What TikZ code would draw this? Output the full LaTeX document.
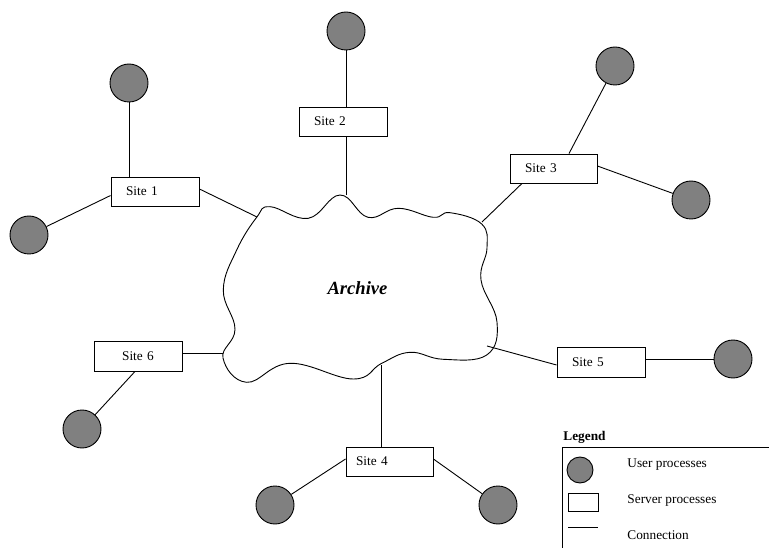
\documentclass[tikz,border=0pt]{standalone}
\usepackage{fontspec}
\setmainfont{Liberation Serif}
\usetikzlibrary{calc}
\definecolor{ugray}{RGB}{128,128,128}
\begin{document}
\begin{tikzpicture}[x=1pt,y=-1pt, line width=0.9pt,
 user/.style={circle, draw, fill=ugray, minimum size=38pt, inner sep=0pt},
 server/.style={draw, fill=white, minimum height=29pt, text width=58pt, inner xsep=15pt, inner ysep=0pt, align=left, font=\fontsize{13.3}{15}\selectfont},
 lbl/.style={font=\fontsize{13.3}{15}\selectfont, anchor=west, inner sep=0pt}]
\useasboundingbox (0,0) rectangle (769,548);

% cloud
\draw[fill=white] plot[smooth cycle, tension=0.7] coordinates {
(256.7,217.3) (270,206.7) (308.3,218.3) (340,195)
(368,217.3) (398.3,208.3) (433.3,217.3)
(450,212.7) (481.7,224)
(487,248) (481,280) (497,322) (486.7,355)
(443.3,359.3) (410,352.3) (381.7,363.3) (353.3,379)
(290,363.3) (246.7,382.3) (223,358) (235,329.3)
(223.3,290) (236.7,250)};
\node[font=\fontsize{18.6}{20}\selectfont\bfseries\itshape] (arch) at (357.5,288) {Archive};

\coordinate (c1) at (257,217);
\coordinate (c2) at (346,195);
\coordinate (c3) at (482,222);
\coordinate (c4) at (381,365);
\coordinate (c5) at (487,346);
\coordinate (c6) at (223,353);

% servers
\node[server] (s1) at (155,191.5) {Site 1};
\node[server] (s2) at (343,121.5) {Site 2};
\node[server, text width=57pt] (s3) at (553.5,168.5) {Site 3};
\node[server, minimum height=30pt, align=center] (s6) at (138,356) {Site 6};
\node[server, minimum height=30pt] (s5) at (601,362) {Site 5};
\node[server, text width=67pt, inner xsep=10pt] (s4) at (389.5,461.5) {Site 4};

% users
\node[user] (u1a) at (129,83) {};
\node[user] (u1b) at (29,235) {};
\node[user] (u2) at (346,31) {};
\node[user] (u3a) at (615,66) {};
\node[user] (u3b) at (691,200) {};
\node[user] (u6) at (82,429) {};
\node[user] (u5) at (733,359) {};
\node[user] (u4a) at (275,505) {};
\node[user] (u4b) at (498,505) {};

% connections
\draw (u1a) -- (u1a |- s1.north);
\draw (u1b) -- ([yshift=-4pt]s1.west);
\draw ([yshift=2.5pt]s1.east) -- (c1);
\draw (u2) -- (u2 |- s2.north);
\draw (c2 |- s2.south) -- (c2);
\draw (u3a) -- ([xshift=15.5pt]s3.north);
\draw (u3b) -- ([yshift=2.5pt]s3.east);
\draw ([xshift=-31.5pt]s3.south) -- (c3);
\draw (c6 -| s6.east) -- (c6);
\draw ([xshift=-3pt]s6.south) -- (u6);
\draw ([yshift=-3pt]s5.west) -- (c5);
\draw (u5 -| s5.east) -- (u5);
\draw (c4) -- (c4 |- s4.north);
\draw ([yshift=2.5pt]s4.west) -- (u4a);
\draw ([yshift=2.5pt]s4.east) -- (u4b);

% legend
\node[lbl, font=\fontsize{13.3}{15}\selectfont\bfseries] (lg) at (563,437) {Legend};
\draw (769,447) -- (562,447) -- (562,548);
\node[user, minimum size=26pt] (lu) at (580,470) {};
\node[draw, minimum width=30pt, minimum height=18pt, inner sep=0pt] (ls) at (583,502) {};
\coordinate (lc1) at (568,527);
\coordinate (lc2) at (598,527);
\draw (lc1) -- (lc2);
\node[lbl] (t1) at (627,465) {User processes};
\node[lbl] (t2) at (627,501) {Server processes};
\node[lbl] (t3) at (627,535) {Connection};
\end{tikzpicture}
\end{document}
